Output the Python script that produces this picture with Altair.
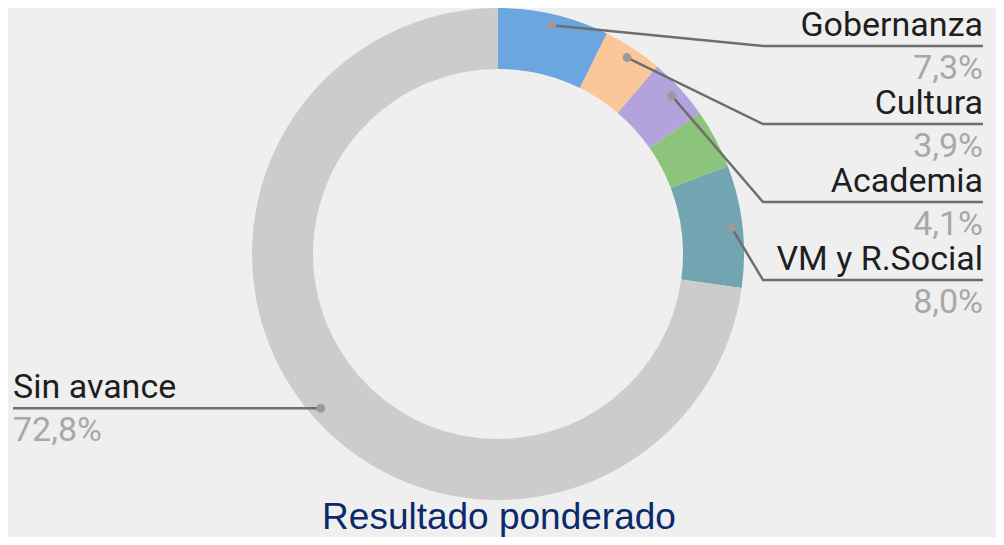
import math
import altair as alt
import pandas as pd

# ---- data ----
categories = ["Gobernanza", "Cultura", "Academia", "Otros", "VM y R.Social", "Sin avance"]
values = [7.3, 3.9, 4.1, 3.9, 8.0, 72.8]
colors = ["#6ca6e0", "#fac898", "#b3a3dc", "#8dc47b", "#72a4b2", "#cccccc"]
labeled = [True, True, True, False, True, True]
title_text = "Resultado ponderado"

# ---- layout (pixels in the view) ----
W, H = 988, 529
CX, CY = 490, 246
R_OUT, R_IN, R_DOT = 246, 185, 235
ELBOW_X, RIGHT_X, LEFT_X = 755, 975, 5
right_line_y = [38, 116, 194, 272]

fmt = lambda v: f"{v:.1f}".replace(".", ",") + "%"

arcs = pd.DataFrame({"cat": categories, "value": values, "idx": list(range(len(values)))})

total = sum(values)
cum = 0.0
dots, lines, right_lbl, left_lbl = [], [], [], []
ri = 0
for c, v, lab in zip(categories, values, labeled):
    mid = (cum + v / 2) / total * 2 * math.pi
    cum += v
    if not lab:
        continue
    dx = CX + R_DOT * math.sin(mid)
    dy = CY - R_DOT * math.cos(mid)
    dots.append({"cat": c, "x": dx, "y": dy})
    if dx > CX:
        ly = right_line_y[ri]
        ri += 1
        pts = [(dx, dy), (ELBOW_X, ly), (RIGHT_X, ly)]
        right_lbl.append({"cat": c, "pct": fmt(v), "x": RIGHT_X, "yn": ly - 10, "yp": ly + 33})
    else:
        ly = dy
        pts = [(dx, dy), (LEFT_X, ly)]
        left_lbl.append({"cat": c, "pct": fmt(v), "x": LEFT_X, "yn": ly - 10, "yp": ly + 33})
    for s, (px, py) in enumerate(pts):
        lines.append({"cat": c, "seq": s, "x": px, "y": py})

dots = pd.DataFrame(dots)
lines = pd.DataFrame(lines)
right_lbl = pd.DataFrame(right_lbl)
left_lbl = pd.DataFrame(left_lbl)

xs = alt.Scale(domain=[0, W], range=[0, W], nice=False, zero=False)
ys = alt.Scale(domain=[0, H], range=[0, H], nice=False, zero=False)

arc_layer = alt.Chart(arcs).mark_arc(radius=R_OUT, radius2=R_IN, x=CX, y=CY).encode(
    theta=alt.Theta("value:Q", stack=True),
    color=alt.Color("cat:N", scale=alt.Scale(domain=categories, range=colors), legend=None),
    order=alt.Order("idx:Q"),
)

line_layer = alt.Chart(lines).mark_line(color="#6e6e6e", strokeWidth=2.5).encode(
    x=alt.X("x:Q", scale=xs, axis=None),
    y=alt.Y("y:Q", scale=ys, axis=None),
    detail="cat:N",
    order="seq:Q",
)

dot_layer = alt.Chart(dots).mark_circle(size=80, color="#9a9a9a", opacity=1).encode(
    x=alt.X("x:Q", scale=xs, axis=None),
    y=alt.Y("y:Q", scale=ys, axis=None),
)

def text_layers(df, align):
    name = alt.Chart(df).mark_text(align=align, baseline="alphabetic", font="Roboto",
                                   fontSize=34, color="#1e1e1e").encode(
        x=alt.X("x:Q", scale=xs, axis=None),
        y=alt.Y("yn:Q", scale=ys, axis=None),
        text="cat:N",
    )
    pct = alt.Chart(df).mark_text(align=align, baseline="alphabetic", font="Roboto",
                                  fontSize=34, color="#a8a8a8").encode(
        x=alt.X("x:Q", scale=xs, axis=None),
        y=alt.Y("yp:Q", scale=ys, axis=None),
        text="pct:N",
    )
    return [name, pct]

title_layer = alt.Chart(pd.DataFrame({"t": [title_text]})).mark_text(
    align="center", baseline="alphabetic", font="Liberation Sans", fontSize=37, color="#0c2a6b"
).encode(x=alt.value(491), y=alt.value(521), text="t:N")

chart = alt.layer(
    arc_layer, line_layer, dot_layer,
    *text_layers(right_lbl, "right"), *text_layers(left_lbl, "left"),
    title_layer,
).properties(
    width=W, height=H, padding=0, background="#efefef",
    autosize=alt.AutoSizeParams(type="none"),
).configure_view(stroke=None)

chart.save("out.html", embed_options={"renderer": "svg", "actions": False})
